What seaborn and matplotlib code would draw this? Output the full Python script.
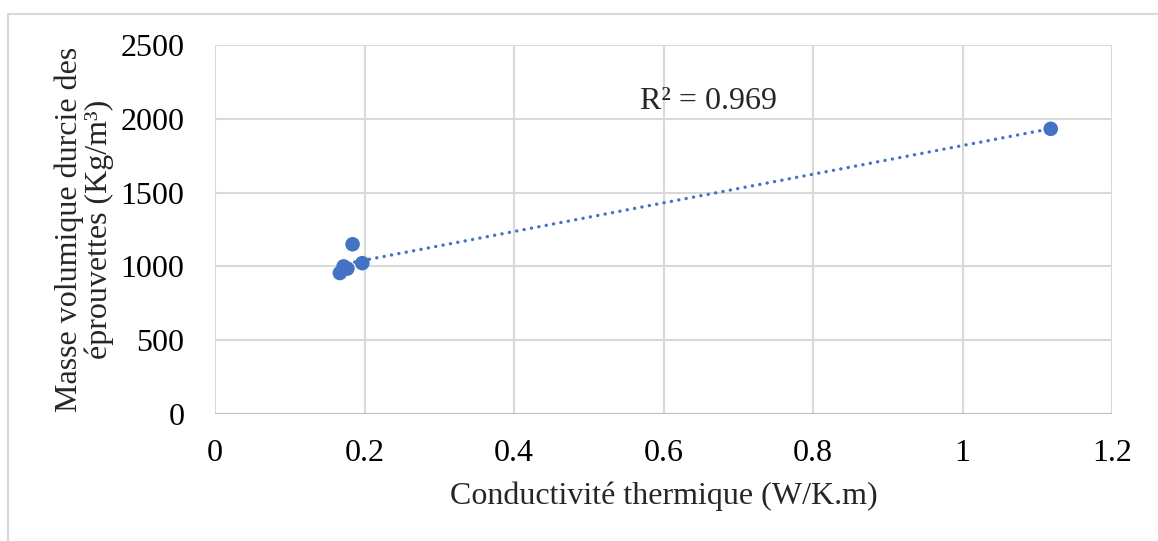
import numpy as np
import pandas as pd
import seaborn as sns
import matplotlib.pyplot as plt
from matplotlib.lines import Line2D

# Données
conductivite = [0.167, 0.172, 0.177, 0.184, 0.197, 1.118]
masse_volumique = [955, 1000, 985, 1150, 1022, 1932]
r2_texte = "R² = 0.969"
x_ticks = [0, 0.2, 0.4, 0.6, 0.8, 1, 1.2]
y_ticks = [0, 500, 1000, 1500, 2000, 2500]

df = pd.DataFrame({"x": conductivite, "y": masse_volumique})

sns.set_theme(style="white")
plt.rcParams["font.family"] = ["Liberation Serif", "DejaVu Serif"]

bleu = "#4472C4"
gris = "#D9D9D9"

fig = plt.figure(figsize=(11.58, 5.41), dpi=100)
ax = fig.add_axes([0.1857, 0.2348, 0.9603 - 0.1857, 0.9168 - 0.2348])

sns.regplot(
    data=df, x="x", y="y", ax=ax, ci=None,
    scatter_kws={"s": 110, "color": bleu, "edgecolor": "none", "alpha": 1, "zorder": 3},
    line_kws={"color": bleu, "linewidth": 2.4, "linestyle": (0, (0.05, 2.2)),
              "dash_capstyle": "round", "zorder": 2},
)

ax.set_xlim(0, 1.2)
ax.set_ylim(0, 2500)
ax.set_xticks(x_ticks)
ax.set_xticklabels([f"{v:g}" for v in x_ticks])
ax.set_yticks(y_ticks)
ax.grid(True, color=gris, linewidth=1.5)
ax.set_axisbelow(True)
for s in ax.spines.values():
    s.set_visible(False)
ax.axhline(0, color="#BFBFBF", linewidth=1.5, zorder=1)
ax.tick_params(axis="both", length=0, labelsize=23, colors="black")
ax.tick_params(axis="x", pad=18)
ax.tick_params(axis="y", pad=22)

ax.set_xlabel("Conductivité thermique (W/K.m)", fontsize=23, labelpad=10)
ax.set_ylabel("Masse volumique durcie des\néprouvettes (Kg/m³)", fontsize=23,
              labelpad=5, linespacing=1.0)

ax.text(0.66, 2120, r2_texte, fontsize=23, ha="center", va="center")

# Cadre du graphique
fig.add_artist(Line2D([8 / 1158, 1], [1 - 14 / 541] * 2, transform=fig.transFigure,
                      color=gris, linewidth=1.5))
fig.add_artist(Line2D([8 / 1158] * 2, [0, 1 - 14 / 541], transform=fig.transFigure,
                      color=gris, linewidth=1.5))

fig.savefig("out.png", dpi=100)
